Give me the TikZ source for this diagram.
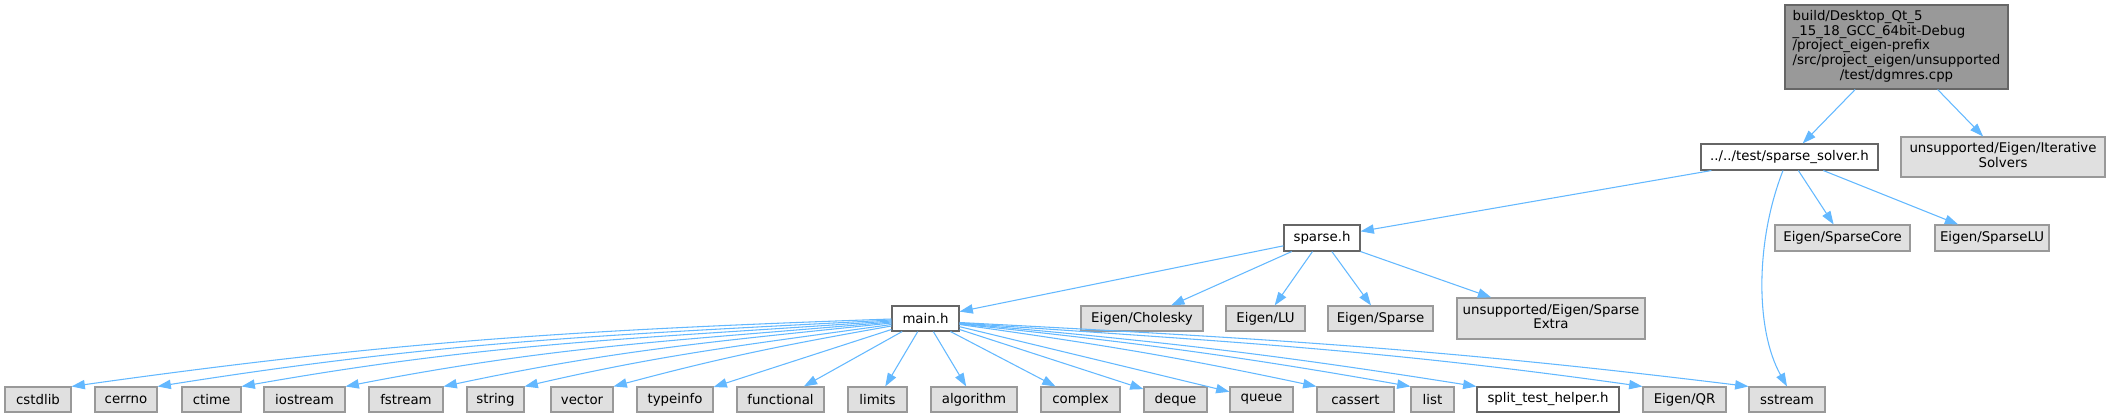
\documentclass[tikz,border=0pt]{standalone}
\usepackage{fontspec}
\setmainfont{DejaVu Sans}
\usetikzlibrary{arrows.meta,calc}
\definecolor{edgec}{HTML}{63B8FF}
\definecolor{gfill}{HTML}{E0E0E0}
\definecolor{gline}{HTML}{999999}
\definecolor{wline}{HTML}{666666}
\definecolor{rfill}{HTML}{999999}
\tikzset{
  box/.style={draw, line width=0.8pt, inner sep=0pt, anchor=center, align=center,
    font=\fontsize{10pt}{11pt}\selectfont},
  sz/.style 2 args={minimum width=#1*0.75pt, minimum height=#2*0.75pt},
  gbox/.style={box, draw=gline, fill=gfill},
  wbox/.style={box, draw=wline, fill=white},
  rbox/.style={box, draw=wline, fill=rfill},
  e/.style={draw=edgec, line width=0.8pt, -{Triangle[length=10pt,width=7pt]}}
}
\begin{document}
\begin{tikzpicture}[x=0.75pt,y=-0.75pt]
\useasboundingbox (0,0) rectangle (2110,417);
% top
\node[rbox, sz={223}{84}] (dgmres) at (1896.5,47) {\begin{tabular}{@{}l@{}}build/Desktop\_Qt\_5\\\_15\_18\_GCC\_64bit-Debug\\/project\_eigen-prefix\\/src/project\_eigen/unsupported\\\multicolumn{1}{@{}c@{}}{/test/dgmres.cpp}\end{tabular}};
\node[wbox, sz={177}{26}] (ss) at (1789.5,157) {../../test/sparse\_solver.h};
\node[gbox, sz={204}{40}] (iter) at (2003,157) {\begin{tabular}{@{}l@{}}unsupported/Eigen/Iterative\\\multicolumn{1}{@{}c@{}}{Solvers}\end{tabular}};
% second level
\node[wbox, sz={76}{26}] (sparse) at (1322,238) {sparse.h};
\node[gbox, sz={135}{26}] (score) at (1842.5,238) {Eigen/SparseCore};
\node[gbox, sz={114}{26}] (slu) at (1992,238) {Eigen/SparseLU};
% third level
\node[wbox, sz={67}{25}] (main) at (925.5,318.5) {main.h};
\node[gbox, sz={122}{25}] (chol) at (1142,318.5) {Eigen/Cholesky};
\node[gbox, sz={79}{25}] (lu) at (1265.5,318.5) {Eigen/LU};
\node[gbox, sz={105}{25}] (spm) at (1380.5,318.5) {Eigen/Sparse};
\node[gbox, sz={188}{41}] (sextra) at (1551,318.5) {\begin{tabular}{@{}l@{}}unsupported/Eigen/Sparse\\\multicolumn{1}{@{}c@{}}{Extra}\end{tabular}};
% bottom row
\node[gbox, sz={66}{25}] (cstdlib) at (38,399.5) {cstdlib};
\node[gbox, sz={62}{25}] (cerrno) at (126,399.5) {cerrno};
\node[gbox, sz={59}{25}] (ctime) at (211.5,399.5) {ctime};
\node[gbox, sz={81}{25}] (iostream) at (304.5,399.5) {iostream};
\node[gbox, sz={74}{25}] (fstream) at (406,399.5) {fstream};
\node[gbox, sz={57}{25}] (string) at (495.5,399.5) {string};
\node[gbox, sz={62}{25}] (vector) at (582,399.5) {vector};
\node[gbox, sz={76}{25}] (typeinfo) at (675,399.5) {typeinfo};
\node[gbox, sz={87}{25}] (functional) at (780.5,399.5) {functional};
\node[gbox, sz={59}{25}] (limits) at (877.5,399.5) {limits};
\node[gbox, sz={86}{25}] (algorithm) at (974,399.5) {algorithm};
\node[gbox, sz={79}{25}] (complex) at (1080.5,399.5) {complex};
\node[gbox, sz={63}{25}] (deque) at (1175.5,399.5) {deque};
\node[gbox, sz={63}{25}] (queue) at (1261.5,399.5) {queue};
\node[gbox, sz={77}{25}] (cassert) at (1355.5,399.5) {cassert};
\node[gbox, sz={43}{25}] (list) at (1432.5,399.5) {list};
\node[wbox, sz={142}{25}] (split) at (1548,399.5) {split\_test\_helper.h};
\node[gbox, sz={83}{25}] (qr) at (1684.5,399.5) {Eigen/QR};
\node[gbox, sz={76}{25}] (sstream) at (1787,399.5) {sstream};
% edges
\draw[e] (dgmres) -- (ss);
\draw[e] (dgmres) -- (iter);
\draw[e] (ss) -- (sparse);
\draw[e] ($(ss.south)+(-6.5,0)$) .. controls ($(ss.south)+(-34,70)$) and ($(sstream.north)+(-32,-57)$) .. (sstream.north);
\draw[e] (ss) -- (score);
\draw[e] (ss) -- (slu);
\draw[e] (sparse) -- (main);
\draw[e] (sparse) -- (chol);
\draw[e] (sparse) -- (lu);
\draw[e] (sparse) -- (spm);
\draw[e] (sparse) -- (sextra);
% main.h fan, left
\draw[e] ($(main.west)+(0,0.5)$) to[out=182,in=8] (cstdlib.north east);
\draw[e] ($(main.west)+(0,1.5)$) to[out=183,in=9] (cerrno.north east);
\draw[e] ($(main.west)+(0,2.5)$) to[out=184,in=10] (ctime.north east);
\draw[e] ($(main.west)+(0,3.5)$) to[out=185,in=11] (iostream.north east);
\draw[e] ($(main.west)+(0,4.5)$) to[out=186,in=12] (fstream.north east);
\draw[e] ($(main.west)+(0,6)$) to[out=188,in=13] (string.north east);
\draw[e] ($(main.west)+(0,7.5)$) to[out=190,in=15] (vector.north east);
\draw[e] (main) -- (typeinfo);
\draw[e] (main) -- (functional);
\draw[e] (main) -- (limits);
\draw[e] (main) -- (algorithm);
\draw[e] (main) -- (complex);
\draw[e] (main) -- (deque);
\draw[e] (main) -- (queue);
% main.h fan, right
\draw[e] ($(main.east)+(0,6)$) to[out=-8,in=168] (cassert.north west);
\draw[e] ($(main.east)+(0,5.5)$) to[out=-6,in=170] (list.north west);
\draw[e] ($(main.east)+(0,5)$) to[out=-5,in=171] (split.north west);
\draw[e] ($(main.east)+(0,4.5)$) to[out=-4,in=172] (qr.north west);
\draw[e] ($(main.east)+(0,4)$) to[out=-3,in=173] (sstream.north west);
\end{tikzpicture}
\end{document}
